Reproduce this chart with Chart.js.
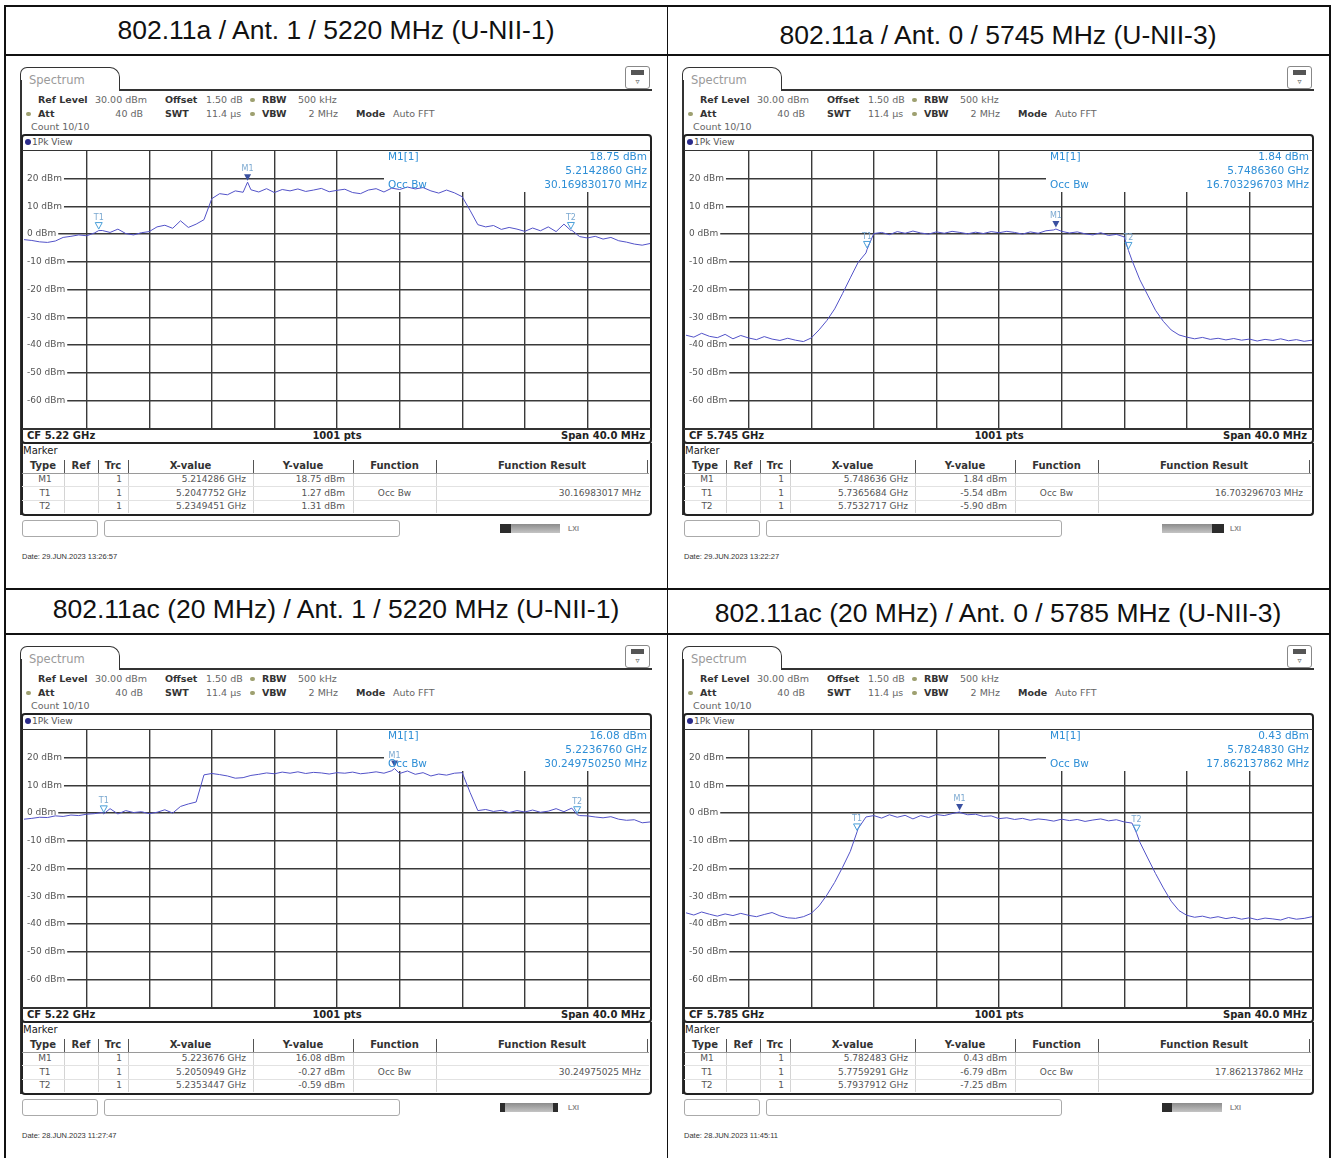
<!DOCTYPE html>
<html>
<head>
<meta charset="utf-8">
<title>Occupied bandwidth plots</title>
<script src="https://cdn.jsdelivr.net/npm/chart.js@4.4.0/dist/chart.umd.min.js"></script>
<style>
  html, body { margin: 0; padding: 0; background: #fff; }
  #page { position: relative; width: 1333px; height: 1158px; overflow: hidden; background: #fff;
          font-family: "Liberation Sans", Arial, sans-serif; }
</style>
</head>
<body>
<div id="page"></div>
<script>
// ---- Data ---------------------------------------------------------------
// Frequency offset from the centre frequency (MHz) for every trace sample.
const offsetsMHz = [-20,-19.5,-19,-18.5,-18,-17.5,-17,-16.5,-16,-15.5,-15,-14.5,-14,-13.5,-13,-12.5,-12,-11.5,-11,-10.5,
  -10,-9.5,-9,-8.5,-8,-7.5,-7,-6.5,-6,-5.5,-5,-4.5,-4,-3.5,-3,-2.5,-2,-1.5,-1,-0.5,
  0,0.5,1,1.5,2,2.5,3,3.5,4,4.5,5,5.5,6,6.5,7,7.5,8,8.5,9,9.5,
  10,10.5,11,11.5,12,12.5,13,13.5,14,14.5,15,15.5,16,16.5,17,17.5,18,18.5,19,19.5,20];

// Trace levels (dBm), 1Pk max hold.
const trace_11a_5220 = [-2.0,-2.3,-2.8,-3.0,-2.5,-1.2,-0.8,-0.3,-0.6,0.4,1.3,0.6,1.8,0.2,-0.3,0.5,0.9,2.6,3.2,2.1,
  4.8,2.4,3.6,5.2,12.8,14.6,14.2,15.6,15.1,16.0,15.2,16.4,15.0,16.1,15.6,16.3,15.4,15.9,16.5,15.3,
  15.8,16.2,15.0,14.6,15.9,16.4,15.2,16.6,16.1,17.0,16.3,16.8,15.6,14.8,15.9,14.9,13.5,8.6,3.4,2.6,
  3.1,1.7,2.4,1.8,1.0,2.2,1.2,2.6,0.9,3.6,1.4,-0.9,-1.4,-0.8,-1.8,-1.2,-2.4,-2.9,-3.6,-4.0,-3.4];

const trace_11a_5745 = [-36.5,-37.2,-35.8,-36.9,-37.4,-36.2,-37.8,-36.6,-37.5,-38.1,-37.0,-37.9,-38.4,-37.6,-38.3,-38.8,-37.5,-34.6,-31.2,-27.0,
  -21.5,-15.8,-10.2,-6.8,0.2,0.6,-0.2,0.9,0.3,1.1,0.4,0.0,0.8,0.3,1.0,0.6,0.1,0.7,0.2,0.9,
  0.5,1.0,0.6,0.0,0.8,0.3,1.2,1.5,1.0,0.4,0.8,0.1,-0.3,0.5,-0.5,-0.1,-1.0,-9.5,-16.5,-22.0,
  -27.5,-31.5,-34.6,-36.4,-37.2,-37.8,-37.3,-38.0,-37.6,-38.2,-37.7,-38.3,-37.9,-38.6,-38.0,-38.4,-37.8,-38.5,-38.1,-38.7,-38.3];

const trace_11ac_5220 = [-2.2,-1.9,-1.5,-1.6,-1.0,-1.2,-0.7,-0.9,-0.4,-0.2,0.2,1.6,-0.3,0.9,0.2,0.5,-0.2,0.3,1.2,0.0,
  2.4,3.3,4.0,13.8,14.3,13.9,13.4,12.6,12.8,13.6,14.0,14.5,14.2,14.8,14.4,14.9,14.3,14.7,14.5,14.1,
  14.6,14.4,14.8,14.2,14.5,14.9,14.4,15.3,14.3,15.2,14.0,14.6,13.4,14.1,13.7,14.4,14.6,7.5,0.9,1.3,
  0.6,1.0,0.2,0.9,0.4,1.1,0.3,0.7,1.6,0.5,1.8,-0.9,-1.0,-1.4,-1.7,-1.3,-2.2,-2.6,-2.4,-3.5,-3.2];

const trace_11ac_5785 = [-36.0,-36.8,-35.7,-36.5,-37.2,-36.4,-37.0,-36.2,-36.9,-37.4,-36.6,-35.9,-37.1,-37.8,-38.0,-37.4,-36.2,-33.5,-29.6,-25.0,
  -19.6,-13.8,-5.6,-1.4,-0.9,-1.8,-0.6,-1.5,-0.8,-2.1,-0.9,-1.6,-0.5,-0.9,-0.2,0.2,-0.6,-0.4,-1.2,-1.0,
  -2.0,-1.7,-2.3,-1.9,-2.6,-2.1,-2.4,-2.9,-2.2,-2.7,-2.3,-3.0,-2.5,-2.1,-2.8,-2.4,-3.2,-3.6,-10.5,-16.2,
  -21.8,-27.0,-31.8,-35.2,-36.9,-37.6,-37.2,-37.9,-37.4,-38.1,-37.6,-38.3,-37.8,-38.5,-37.9,-38.2,-38.6,-37.7,-38.3,-38.0,-37.4];

// Marker table contents.
const markerTypes = ['M1', 'T1', 'T2'];
const markerX_11a_5220 = ['5.214286 GHz', '5.2047752 GHz', '5.2349451 GHz'];
const markerY_11a_5220 = ['18.75 dBm', '1.27 dBm', '1.31 dBm'];
const occBw_11a_5220 = '30.16983017 MHz';
const markerX_11a_5745 = ['5.748636 GHz', '5.7365684 GHz', '5.7532717 GHz'];
const markerY_11a_5745 = ['1.84 dBm', '-5.54 dBm', '-5.90 dBm'];
const occBw_11a_5745 = '16.703296703 MHz';
const markerX_11ac_5220 = ['5.223676 GHz', '5.2050949 GHz', '5.2353447 GHz'];
const markerY_11ac_5220 = ['16.08 dBm', '-0.27 dBm', '-0.59 dBm'];
const occBw_11ac_5220 = '30.24975025 MHz';
const markerX_11ac_5785 = ['5.782483 GHz', '5.7759291 GHz', '5.7937912 GHz'];
const markerY_11ac_5785 = ['0.43 dBm', '-6.79 dBm', '-7.25 dBm'];
const occBw_11ac_5785 = '17.862137862 MHz';

const panelTitles = [
  '802.11a / Ant. 1 / 5220 MHz (U-NII-1)',
  '802.11a / Ant. 0 / 5745 MHz (U-NII-3)',
  '802.11ac (20 MHz) / Ant. 1 / 5220 MHz (U-NII-1)',
  '802.11ac (20 MHz) / Ant. 0 / 5785 MHz (U-NII-3)'
];
const centerFreqGHz = [5.22, 5.745, 5.22, 5.785];
const cfLabels = ['CF 5.22 GHz', 'CF 5.745 GHz', 'CF 5.22 GHz', 'CF 5.785 GHz'];
const dates = ['Date: 29.JUN.2023  13:26:57', 'Date: 29.JUN.2023  13:22:27',
               'Date: 28.JUN.2023  11:27:47', 'Date: 28.JUN.2023  11:45:11'];
const yRange = [-70, 30];
const xRangeMHz = [-20, 20];
const tableHeaders = ['Type', 'Ref', 'Trc', 'X-value', 'Y-value', 'Function', 'Function Result'];

// ---- Drawing helpers -----------------------------------------------------
const page = document.getElementById('page');
const FONT = '"Liberation Sans", Arial, sans-serif';
const SCR = '"DejaVu Sans", Verdana, sans-serif';

function el(tag, css, content) {
  const e = document.createElement(tag);
  e.style.cssText = 'position:absolute;' + css;
  if (content != null) e.textContent = content;
  page.appendChild(e);
  return e;
}
function line(x, y, w, h, color) {
  return el('div', `left:${x}px;top:${y}px;width:${w}px;height:${h}px;background:${color || '#222'};`);
}
// y is the vertical centre of the text
function text(x, y, s, o = {}) {
  const size = o.size || 9, lh = Math.round(size + 6);
  let css = `top:${y - lh / 2}px;height:${lh}px;line-height:${lh}px;font-size:${size}px;` +
            `color:${o.color || '#444'};font-weight:${o.bold ? 'bold' : 'normal'};white-space:nowrap;font-family:${o.family || SCR};`;
  if (o.align === 'right') css += `left:${x - 400}px;width:400px;text-align:right;`;
  else if (o.align === 'center') css += `left:${x - 300}px;width:600px;text-align:center;`;
  else css += `left:${x}px;`;
  return el('div', css, s);
}

// ---- Outer table ---------------------------------------------------------
line(4, 5, 1326, 1.5, '#111');
line(4, 54, 1326, 1.5, '#111');
line(4, 588, 1326, 1.5, '#111');
line(4, 633, 1326, 1.5, '#111');
line(4, 5, 1.5, 1153, '#111');
line(666.5, 5, 1.5, 1153, '#111');
line(1329, 5, 1.5, 1153, '#111');

const panels = [
  { dx: 0,   dy: 0,   tx: 336, ty: 30,  trace: trace_11a_5220,  mx: markerX_11a_5220,  my: markerY_11a_5220,  obw: occBw_11a_5220,
    bar: [[500, 511, '#2c2c2c'], [511, 560, 'g']] },
  { dx: 662, dy: 0,   tx: 998, ty: 35,  trace: trace_11a_5745,  mx: markerX_11a_5745,  my: markerY_11a_5745,  obw: occBw_11a_5745,
    bar: [[500, 550, 'g'], [550, 562, '#2c2c2c']] },
  { dx: 0,   dy: 579, tx: 336, ty: 609, trace: trace_11ac_5220, mx: markerX_11ac_5220, my: markerY_11ac_5220, obw: occBw_11ac_5220,
    bar: [[500, 505, '#2c2c2c'], [505, 553, 'g'], [553, 558, '#2c2c2c']] },
  { dx: 662, dy: 579, tx: 998, ty: 613, trace: trace_11ac_5785, mx: markerX_11ac_5785, my: markerY_11ac_5785, obw: occBw_11ac_5785,
    bar: [[500, 510, '#2c2c2c'], [510, 560, 'g']] }
];

function readoutPlugin(p, markers, idx) {
  return {
    id: 'readout' + idx,
    beforeDatasetsDraw(chart) {
      // white readout field in the upper right of the diagram
      const { ctx, chartArea: a } = chart;
      ctx.save();
      ctx.fillStyle = '#fff';
      ctx.fillRect(a.left + 360, a.top, a.right - a.left - 360, 41);
      ctx.restore();
    },
    afterDatasetsDraw(chart) {
      const { ctx, chartArea: a, scales } = chart;
      ctx.save();
      markers.forEach(m => {
        const px = scales.x.getPixelForValue(m.x), py = scales.y.getPixelForValue(m.y);
        ctx.beginPath();
        ctx.moveTo(px - 3.5, py - 8);
        ctx.lineTo(px + 3.5, py - 8);
        ctx.lineTo(px, py - 1.5);
        ctx.closePath();
        if (m.type === 'M1') { ctx.fillStyle = '#3a50a0'; ctx.fill(); }
        else { ctx.strokeStyle = '#4a9fd8'; ctx.lineWidth = 1; ctx.stroke(); }
        ctx.fillStyle = '#7aa8d0';
        ctx.font = '8px ' + SCR;
        ctx.textAlign = 'center';
        ctx.textBaseline = 'bottom';
        ctx.fillText(m.type, px, py - 9);
      });
      ctx.fillStyle = '#2d8ed6';
      ctx.font = '10.5px ' + SCR;
      ctx.textBaseline = 'middle';
      ctx.textAlign = 'left';
      ctx.fillText('M1[1]', a.left + 364, a.top + 6);
      ctx.fillText('Occ Bw', a.left + 364, a.top + 34);
      ctx.textAlign = 'right';
      ctx.fillText(p.my[0], a.right - 3, a.top + 6);
      ctx.fillText(parseFloat(p.mx[0]).toFixed(7) + ' GHz', a.right - 3, a.top + 20);
      ctx.fillText(parseFloat(p.obw).toFixed(9) + ' MHz', a.right - 3, a.top + 34);
      ctx.restore();
    }
  };
}

panels.forEach((p, idx) => {
  const X = v => v + p.dx, Y = v => v + p.dy;
  const cf = centerFreqGHz[idx];

  // cell title
  text(p.tx, p.ty, panelTitles[idx], { align: 'center', size: 26.5, color: '#111', family: FONT });

  // "Spectrum" tab and header frame
  el('div', `left:${X(20)}px;top:${Y(67)}px;width:100px;height:23px;box-sizing:border-box;border:1.5px solid #333;` +
            `border-bottom:none;border-radius:7px 10px 0 0;background:#fff;`);
  text(X(29), Y(79.5), 'Spectrum', { size: 11.5, color: '#9a9a9a' });
  line(X(119), Y(89), 533, 1.5, '#333');
  line(X(20), Y(80), 1.5, 435, '#333');
  // icon at top right
  el('div', `left:${X(625)}px;top:${Y(66)}px;width:25px;height:23px;box-sizing:border-box;border:1px solid #888;border-radius:3px;background:#fff;`);
  line(X(631), Y(70), 13, 5, '#555');
  text(X(637.5), Y(82), '▿', { size: 8, color: '#555', align: 'center' });

  // setting lines
  const lab = { bold: true, color: '#333', size: 9.5 };
  const val = { color: '#666', size: 9.5 };
  const dot = (x, y) => el('div', `left:${X(x)}px;top:${Y(y) - 2}px;width:5px;height:4px;border-radius:2px;background:#9ea070;`);
  text(X(38), Y(100), 'Ref Level', lab);  text(X(95), Y(100), '30.00 dBm', val);
  text(X(165), Y(100), 'Offset', lab);    text(X(206), Y(100), '1.50 dB', val);
  dot(250, 100);
  text(X(262), Y(100), 'RBW', lab);       text(X(298), Y(100), '500 kHz', val);
  dot(26, 113.5);
  text(X(38), Y(113.5), 'Att', lab);      text(X(143), Y(113.5), '40 dB', Object.assign({ align: 'right' }, val));
  text(X(165), Y(113.5), 'SWT', lab);     text(X(206), Y(113.5), '11.4 µs', val);
  dot(250, 113.5);
  text(X(262), Y(113.5), 'VBW', lab);     text(X(338), Y(113.5), '2 MHz', Object.assign({ align: 'right' }, val));
  text(X(356), Y(113.5), 'Mode', lab);    text(X(393), Y(113.5), 'Auto FFT', val);
  text(X(31), Y(127), 'Count 10/10', val);

  // diagram frame
  el('div', `left:${X(21)}px;top:${Y(134)}px;width:631px;height:310px;box-sizing:border-box;border:2px solid #222;border-radius:4px;`);
  el('div', `left:${X(25)}px;top:${Y(139)}px;width:6px;height:6px;border-radius:3px;background:#2a2a8a;`);
  text(X(32), Y(142), '1Pk View', { size: 9, color: '#555' });
  line(X(22), Y(149.5), 629, 1.5, '#333');
  line(X(22), Y(428), 629, 1.5, '#333');
  text(X(27), Y(436), cfLabels[idx], { bold: true, size: 10, color: '#222' });
  text(X(337), Y(436), '1001 pts', { bold: true, size: 10, color: '#222', align: 'center' });
  text(X(645), Y(436), 'Span 40.0 MHz', { bold: true, size: 10, color: '#222', align: 'right' });

  // chart canvas
  const cv = document.createElement('canvas');
  cv.width = 630; cv.height = 279;
  cv.style.cssText = `position:absolute;left:${X(22)}px;top:${Y(150)}px;width:630px;height:279px;`;
  page.appendChild(cv);

  const markers = markerTypes.map((t, i) => ({
    type: t,
    x: (parseFloat(p.mx[i]) - cf) * 1000,
    y: parseFloat(p.my[i])
  }));
  const points = offsetsMHz.map((x, i) => ({ x, y: p.trace[i] }))
    .concat(markers.map(m => ({ x: m.x, y: m.y })))
    .sort((a, b) => a.x - b.x);

  const noPad = s => { s.paddingTop = 0; s.paddingBottom = 0; s.paddingLeft = 0; s.paddingRight = 0; };

  new Chart(cv, {
    type: 'line',
    data: { datasets: [{ data: points, borderColor: '#5252c8', borderWidth: 1, pointRadius: 0, tension: 0, fill: false }] },
    options: {
      responsive: false, animation: false, maintainAspectRatio: false,
      layout: { padding: { left: 2, right: 2, top: 1, bottom: 1 } },
      plugins: { legend: { display: false }, tooltip: { enabled: false } },
      scales: {
        x: {
          type: 'linear', min: xRangeMHz[0], max: xRangeMHz[1],
          afterBuildTicks: s => { s.ticks = s.ticks.filter(t => t.value > xRangeMHz[0] && t.value < xRangeMHz[1]); },
          afterFit: s => { s.height = 0; noPad(s); },
          ticks: { display: false, stepSize: 4 },
          grid: { color: '#3a3a3a', lineWidth: 1.4, drawTicks: false },
          border: { display: false }
        },
        y: {
          min: yRange[0], max: yRange[1],
          afterBuildTicks: s => { s.ticks = s.ticks.filter(t => t.value > yRange[0] && t.value < yRange[1]); },
          afterFit: s => { s.width = 0; noPad(s); },
          ticks: {
            stepSize: 10, mirror: true, padding: 3, color: '#555',
            font: { family: SCR, size: 9 },
            showLabelBackdrop: true, backdropColor: '#fff', backdropPadding: { left: 3, right: 2, top: 0, bottom: 0 },
            callback: v => v + ' dBm'
          },
          grid: { color: '#3a3a3a', lineWidth: 1.4, drawTicks: false },
          border: { display: false }
        }
      }
    },
    plugins: [readoutPlugin(p, markers, idx)]
  });

  // marker table
  el('div', `left:${X(21)}px;top:${Y(443)}px;width:631px;height:73px;box-sizing:border-box;border:2px solid #222;border-top:none;border-radius:0 0 4px 4px;`);
  text(X(23), Y(451), 'Marker', { size: 10, color: '#222' });
  const cols = [22, 64, 98, 128, 253, 353, 436, 648];
  cols.slice(1, -1).forEach(c => line(X(c), Y(460), 1, 13, '#555'));
  line(X(647), Y(460), 1, 13, '#555');
  cols.slice(1, -1).forEach(c => line(X(c), Y(473), 1, 40, '#d4d4d4'));
  line(X(22), Y(472.5), 627, 1, '#9a9a9a');
  line(X(22), Y(486), 627, 1, '#e2e2e2');
  line(X(22), Y(499.5), 627, 1, '#e2e2e2');
  tableHeaders.forEach((h, i) => {
    text(X((cols[i] + cols[i + 1]) / 2), Y(466), h, { bold: true, size: 10, color: '#333', align: 'center' });
  });
  const rowY = [479.5, 493, 506.5];
  const body = { size: 9, color: '#555' };
  markerTypes.forEach((t, i) => {
    text(X(45), Y(rowY[i]), t, Object.assign({ align: 'center' }, body));
    text(X(122), Y(rowY[i]), '1', Object.assign({ align: 'right' }, body));
    text(X(246), Y(rowY[i]), p.mx[i], Object.assign({ align: 'right' }, body));
    text(X(345), Y(rowY[i]), p.my[i], Object.assign({ align: 'right' }, body));
  });
  text(X(394.5), Y(rowY[1]), 'Occ Bw', Object.assign({ align: 'center' }, body));
  text(X(641), Y(rowY[1]), p.obw, Object.assign({ align: 'right' }, body));

  // status line
  el('div', `left:${X(22)}px;top:${Y(520)}px;width:76px;height:17px;box-sizing:border-box;border:1px solid #aaa;border-radius:3px;`);
  el('div', `left:${X(104)}px;top:${Y(520)}px;width:296px;height:17px;box-sizing:border-box;border:1px solid #aaa;border-radius:3px;`);
  p.bar.forEach(([a, b, c]) => {
    const bg = c === 'g' ? 'linear-gradient(#8c8c8c,#c4c4c4)' : c;
    el('div', `left:${X(a)}px;top:${Y(524)}px;width:${b - a}px;height:9px;background:${bg};`);
  });
  text(X(568), Y(528.5), 'LXI', { size: 7, bold: true, color: '#8a8a8a', family: FONT });

  text(X(22), Y(557), dates[idx], { size: 7.5, color: '#333', family: FONT });
});
</script>
</body>
</html>
